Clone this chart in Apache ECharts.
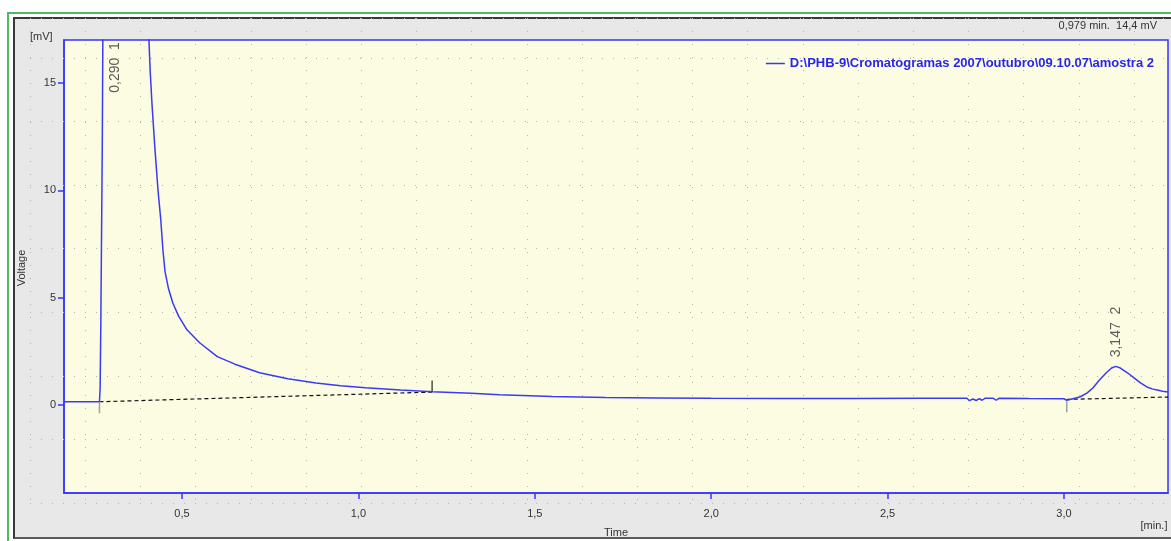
<!DOCTYPE html>
<html>
<head>
<meta charset="utf-8">
<title>Cromatograma</title>
<script src="https://cdn.jsdelivr.net/npm/echarts@6/dist/echarts.min.js"></script>
<style>
    html, body { margin: 0; padding: 0; background: #fff; overflow: hidden; }
    #frame { position: absolute; left: 7px; top: 12px; width: 1200px; height: 560px; border-top: 2px solid #4dbb63; border-left: 2px solid #4dbb63; }
    #panel { position: absolute; left: 13px; top: 17px; width: 1200px; height: 518px; background: #e8e8e8;
             border-top: 2px solid #3a3a3a; border-left: 2px solid #3a3a3a; border-bottom: 2px solid #5a5a5a; }
    #chart { position: absolute; left: 0; top: 0; width: 1171px; height: 541px; }
</style>
</head>
<body>
<div id="frame"></div>
<div id="panel"></div>
<div id="chart"></div>
<script>
    //---------------------------------------------dados do cromatograma--------------------------------------
    var sampleName = 'D:\\PHB-9\\Cromatogramas 2007\\outubro\\09.10.07\\amostra 2';
    var cursorText = '0,979 min.  14,4 mV';

    // tempo [min.] e tensão [mV]
    var curveTime = [0.1655, 0.20, 0.25, 0.266, 0.268, 0.270, 0.274, 0.278, 0.29, 0.33, 0.37, 0.395,
        0.405, 0.410, 0.415, 0.423, 0.432, 0.440, 0.446, 0.452, 0.462, 0.474, 0.49, 0.514, 0.55, 0.60, 0.65,
        0.72, 0.80, 0.88, 0.95, 1.02, 1.12, 1.21, 1.32, 1.40, 1.55, 1.70, 1.85, 2.0, 2.2, 2.4, 2.6, 2.725,
        2.732, 2.742, 2.752, 2.760, 2.768, 2.776, 2.785, 2.80, 2.808, 2.816, 2.9, 3.0, 3.008, 3.02, 3.045,
        3.065, 3.082, 3.10, 3.12, 3.135, 3.147, 3.16, 3.18, 3.196, 3.215, 3.235, 3.25, 3.264, 3.28, 3.295];
    var curveMv = [0.15, 0.15, 0.15, 0.15, 0.8, 4, 12, 25, 60, 60, 40, 22,
        17.5, 15.5, 14.0, 12.0, 10.0, 8.6, 7.2, 6.2, 5.4, 4.75, 4.15, 3.5, 2.9, 2.25, 1.9,
        1.5, 1.22, 1.02, 0.9, 0.8, 0.70, 0.62, 0.55, 0.48, 0.40, 0.35, 0.33, 0.31, 0.30, 0.30, 0.31, 0.31,
        0.20, 0.28, 0.21, 0.30, 0.22, 0.31, 0.31, 0.31, 0.22, 0.31, 0.30, 0.29, 0.22, 0.27, 0.37,
        0.55, 0.79, 1.15, 1.5, 1.72, 1.80, 1.72, 1.5, 1.3, 1.05, 0.84, 0.75, 0.70, 0.64, 0.60];

    // linhas de base dos picos
    var base1Time = [0.266, 1.209];
    var base1Mv = [0.15, 0.60];
    var base2Time = [3.008, 3.295];
    var base2Mv = [0.26, 0.37];

    // marcas de início / fim de integração
    var markTime = [0.266, 1.209, 3.008];
    var markMv = [0.15, 0.60, 0.20];
    var markUp = [false, true, false];

    // picos: tempo de retenção, número, ponto da etiqueta
    var peakTime = [0.290, 3.147];
    var peakNo = [1, 2];
    var peakLabelMv = [16.9, 1.8];

    //---------------------------------------------montagem--------------------------------------
    function pairs(xs, ys) {
        var out = [];
        for (var i = 0; i < xs.length; i++) out.push([xs[i], ys[i]]);
        return out;
    }
    function comma(v) { return String(v).replace('.', ','); }

    var blue = '#3535ff';
    var font = 'Liberation Sans, Arial, sans-serif';

    var markData = markTime.map(function (t, i) {
        return {
            value: [t, markMv[i]],
            symbolOffset: [0, markUp[i] ? -6 : 6],
            itemStyle: { color: markUp[i] ? '#222' : '#8a8a8a' }
        };
    });
    // rotate 90: offset[0] anda ao longo do texto (para cima)
    var peakData = peakTime.map(function (t, i) {
        return {
            value: [t, peakLabelMv[i]],
            name: t.toFixed(3).replace('.', ',') + '  ' + peakNo[i],
            label: i === 0 ? { align: 'right', verticalAlign: 'top' } : { align: 'left', verticalAlign: 'middle', offset: [9, 0] }
        };
    });

    var option = {
        animation: false,
        textStyle: { fontFamily: font },
        legend: {
            data: [{ name: sampleName, icon: 'rect' }],
            right: 12, top: 52,
            itemWidth: 19, itemHeight: 1.5,
            textStyle: { color: '#2626f0', fontWeight: 'bold', fontSize: 13, fontFamily: font }
        },
        grid: [
            { left: 64, top: 40, right: 3, bottom: 48, show: true, backgroundColor: '#fcfce2', borderColor: blue, borderWidth: 1.5 },
            { left: 30, top: 18, width: 1141, height: 485, show: false }
        ],
        xAxis: [
            {
                type: 'value', gridIndex: 0, min: 0.1655, max: 3.295,
                axisLine: { show: true, onZero: false, lineStyle: { color: blue, width: 1.5 } },
                axisTick: { show: true, length: 6, lineStyle: { color: blue, width: 1.5 } },
                axisLabel: { color: '#333', fontSize: 11, margin: 15, showMinLabel: false, showMaxLabel: false,
                    formatter: function (v) { return comma(v.toFixed(1)); } },
                splitLine: { show: false }
            },
            {
                type: 'value', gridIndex: 1, min: 0, max: 20.67, interval: 1, z: 1,
                axisLine: { show: false }, axisTick: { show: false }, axisLabel: { show: false },
                splitLine: { show: true, lineStyle: { color: '#b4b4b4', width: 1, type: [1, 12] } }
            }
        ],
        yAxis: [
            {
                type: 'value', gridIndex: 0, min: -4.1, max: 17,
                axisLine: { show: true, onZero: false, lineStyle: { color: blue, width: 1.5 } },
                axisTick: { show: true, length: 6, lineStyle: { color: blue, width: 1.5 } },
                axisLabel: { color: '#333', fontSize: 11, margin: 8, showMinLabel: false, showMaxLabel: false,
                    formatter: function (v) { return comma(v); } },
                splitLine: { show: false }
            },
            {
                type: 'value', gridIndex: 1, min: 0, max: 7.63, interval: 1, z: 1,
                axisLine: { show: false }, axisTick: { show: false }, axisLabel: { show: false },
                splitLine: { show: true, lineStyle: { color: '#b4b4b4', width: 1, type: [1, 10] } }
            }
        ],
        graphic: [
            { type: 'text', left: 30, top: 31, style: { text: '[mV]', fill: '#333', font: '11px ' + font } },
            { type: 'text', x: 22, y: 268, rotation: Math.PI / 2,
              style: { text: 'Voltage', fill: '#333', font: '11px ' + font, textAlign: 'center', textVerticalAlign: 'middle' } },
            { type: 'text', x: 616, y: 533, style: { text: 'Time', fill: '#333', font: '11px ' + font, textAlign: 'center', textVerticalAlign: 'middle' } },
            { type: 'text', x: 1154, y: 526, style: { text: '[min.]', fill: '#333', font: '11px ' + font, textAlign: 'center', textVerticalAlign: 'middle' } },
            { type: 'text', x: 1157, y: 26, style: { text: cursorText, fill: '#333', font: '11px ' + font, textAlign: 'right', textVerticalAlign: 'middle' } }
        ],
        series: [
            {
                name: sampleName, type: 'line', xAxisIndex: 0, yAxisIndex: 0,
                data: pairs(curveTime, curveMv), symbol: 'none', smooth: false, z: 3,
                lineStyle: { color: '#3a3af5', width: 1.5 }, itemStyle: { color: '#3a3af5' }
            },
            {
                name: 'base1', type: 'line', data: pairs(base1Time, base1Mv), symbol: 'none', z: 2,
                lineStyle: { color: '#111', width: 1.2, type: [4, 3] }
            },
            {
                name: 'base2', type: 'line', data: pairs(base2Time, base2Mv), symbol: 'none', z: 2,
                lineStyle: { color: '#111', width: 1.2, type: [4, 3] }
            },
            {
                name: 'marks', type: 'scatter', data: markData, symbol: 'rect', symbolSize: [1.5, 11], z: 4
            },
            {
                name: 'peaks', type: 'scatter', data: peakData, symbolSize: 1, z: 5,
                itemStyle: { color: 'rgba(0,0,0,0)' },
                label: {
                    show: true, position: 'inside', rotate: 90,
                    color: '#333', fontSize: 14, fontFamily: font,
                    formatter: function (p) { return p.name; }
                }
            }
        ]
    };

    var chart = echarts.init(document.getElementById('chart'));
    chart.setOption(option);
</script>
</body>
</html>
